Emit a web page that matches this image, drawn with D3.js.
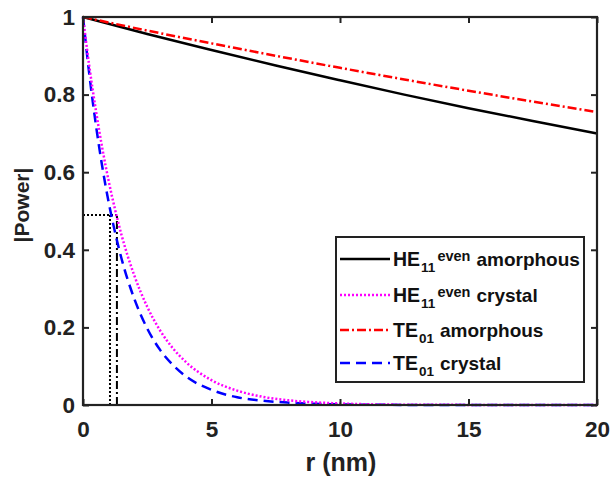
<!DOCTYPE html>
<html><head><meta charset="utf-8">
<script src="https://cdn.jsdelivr.net/npm/d3@7"></script>
<style>body{margin:0;background:#fff}svg{display:block}text{font-family:"Liberation Sans",Arial,sans-serif;font-weight:bold}</style>
</head><body><svg id="c" width="611" height="479"></svg>
<script>
const rShort = [0,0.25,0.5,0.75,1,1.25,1.5,2,2.5,3,3.5,4,5,6,7,8,9,10,12,15,20];
const he11Crystal = [1,0.871,0.760,0.662,0.577,0.503,0.438,0.333,0.253,0.192,0.146,0.111,0.064,0.037,0.021,0.012,0.007,0.004,0.001,0.0003,0];
const te01Crystal = [1,0.850,0.723,0.614,0.522,0.444,0.377,0.273,0.197,0.142,0.103,0.074,0.039,0.020,0.011,0.006,0.003,0.0015,0.0004,0,0];
const rLong = [0,2.5,5,7.5,10,12.5,15,17.5,20];
const he11Amorph = [1,0.956,0.915,0.875,0.837,0.800,0.765,0.732,0.700];
const te01Amorph = [1,0.965,0.932,0.900,0.869,0.839,0.810,0.782,0.755];
const xTicks = [0,5,10,15,20];
const yTicks = [0,0.2,0.4,0.6,0.8,1];
const markerLevel = 0.49, markerR1 = 1.05, markerR2 = 1.32;

const svg = d3.select("#c");
const L=83,R=597,T=17,B=405;
const x = d3.scaleLinear().domain([0,20]).range([L,R]);
const y = d3.scaleLinear().domain([0,1]).range([B,T]);

const series = [
  {name:"amorphous", pre:"HE", sub:"11", sup:"even", r:rLong, v:he11Amorph, color:"#000", dash:null},
  {name:"crystal", pre:"HE", sub:"11", sup:"even", r:rShort, v:he11Crystal, color:"#ff00ff", dash:"2,2"},
  {name:"amorphous", pre:"TE", sub:"01", sup:null, r:rLong, v:te01Amorph, color:"#ff0000", dash:"9,3,2,3"},
  {name:"crystal", pre:"TE", sub:"01", sup:null, r:rShort, v:te01Crystal, color:"#0000ff", dash:"10,6"}
];
const line = d3.line().x(d=>x(d[0])).y(d=>y(d[1])).curve(d3.curveMonotoneX);
const g = svg.append("g");
g.append("path").attr("d", d3.line()([[x(0),y(markerLevel)],[x(markerR2),y(markerLevel)]])).attr("stroke","#000").attr("stroke-width",2).attr("stroke-dasharray","2,2").attr("fill","none");
g.append("path").attr("d", d3.line()([[x(markerR1),y(0)],[x(markerR1),y(markerLevel)]])).attr("stroke","#000").attr("stroke-width",2).attr("stroke-dasharray","2,2").attr("fill","none");
g.append("path").attr("d", d3.line()([[x(markerR2),y(0)],[x(markerR2),y(markerLevel)]])).attr("stroke","#000").attr("stroke-width",2).attr("stroke-dasharray","8,3,2,3").attr("fill","none");
[series[3],series[1],series[0],series[2]].forEach(s=>{
  g.append("path").attr("d", line(s.r.map((r,i)=>[r,s.v[i]]))).attr("fill","none")
   .attr("stroke",s.color).attr("stroke-width",2.5).attr("stroke-dasharray",s.dash);
});
svg.append("rect").attr("x",L).attr("y",T).attr("width",R-L).attr("height",B-T).attr("fill","none").attr("stroke","#222").attr("stroke-width",2.2);
const xb = svg.append("g").attr("transform",`translate(0,${B})`).call(d3.axisBottom(x).tickValues(xTicks).tickSizeInner(-6).tickSizeOuter(0).tickPadding(16));
const xt = svg.append("g").attr("transform",`translate(0,${T})`).call(d3.axisTop(x).tickValues(xTicks).tickSizeInner(-6).tickSizeOuter(0).tickFormat(""));
const yl = svg.append("g").attr("transform",`translate(${L},0)`).call(d3.axisLeft(y).tickValues(yTicks).tickSizeInner(-6).tickSizeOuter(0).tickPadding(8).tickFormat(d3.format("~g")));
const yr = svg.append("g").attr("transform",`translate(${R},0)`).call(d3.axisRight(y).tickValues(yTicks).tickSizeInner(-6).tickSizeOuter(0).tickFormat(""));
[xb,xt,yl,yr].forEach(a=>{a.select(".domain").remove();a.selectAll("line").attr("stroke","#222").attr("stroke-width",2);
  a.selectAll("text").attr("font-size",22.5).attr("font-weight","bold").attr("fill","#222").attr("font-family","Liberation Sans, Arial, sans-serif");});
svg.append("text").attr("x",341).attr("y",471).attr("text-anchor","middle").attr("font-size",25).attr("fill","#222").text("r (nm)");
svg.append("text").attr("transform",`translate(29,205) rotate(-90)`).attr("text-anchor","middle").attr("font-size",21).attr("fill","#222").text("|Power|");
// legend
const lg = svg.append("g");
lg.append("rect").attr("x",336).attr("y",237).attr("width",248).attr("height",145).attr("fill","#fff").attr("stroke","#222").attr("stroke-width",2);
const rowsY=[259,295,330,363];
series.forEach((s,i)=>{
  const yy=rowsY[i];
  lg.append("line").attr("x1",340).attr("x2",390).attr("y1",yy).attr("y2",yy).attr("stroke",s.color).attr("stroke-width",2.5).attr("stroke-dasharray",s.dash);
  const main = lg.append("text").attr("x",393).attr("y",yy+7).attr("font-size",19.5).attr("fill","#111").text(s.pre);
  const w1 = main.node().getComputedTextLength();
  const sub = lg.append("text").attr("x",393+w1+1).attr("y",yy+13).attr("font-size",13.5).attr("fill","#111").text(s.sub);
  let xe = 393+w1+1+sub.node().getComputedTextLength();
  if(s.sup){ const sp = lg.append("text").attr("x",xe+2).attr("y",yy+2).attr("font-size",14.5).attr("fill","#111").text(s.sup);
    xe = xe+2+sp.node().getComputedTextLength(); }
  lg.append("text").attr("x",xe+6).attr("y",yy+7).attr("font-size",19).attr("fill","#111").text(s.name);
});
</script></body></html>
